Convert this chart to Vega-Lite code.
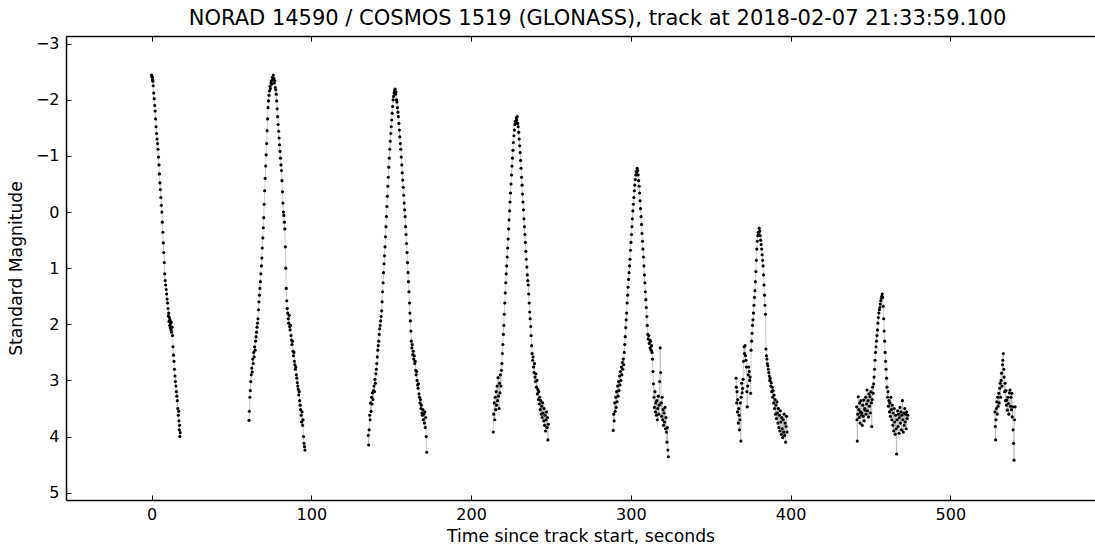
{
  "$schema": "https://vega.github.io/schema/vega-lite/v6.json",
  "width": 1029,
  "height": 464,
  "autosize": {"type": "none"},
  "padding": {"left": 66, "top": 36, "right": 0, "bottom": 45},
  "background": "white",
  "title": {
    "text": "NORAD 14590 / COSMOS 1519 (GLONASS), track at 2018-02-07 21:33:59.100",
    "font": "DejaVu Sans",
    "fontSize": 21,
    "fontWeight": "normal",
    "color": "#000000",
    "anchor": "middle",
    "offset": 7,
    "dx": 17
  },
  "config": {
    "view": {"stroke": null},
    "axis": {
      "domainColor": "#000000",
      "domainWidth": 1.5,
      "ticks": true,
      "tickColor": "#000000",
      "tickWidth": 1,
      "tickSize": -5,
      "grid": false,
      "labelFont": "DejaVu Sans",
      "labelFontSize": 16,
      "labelColor": "#000000",
      "titleFont": "DejaVu Sans",
      "titleFontSize": 17.2,
      "titleFontWeight": "normal",
      "titleColor": "#000000"
    }
  },
  "data": {
    "values": [
      {"pass":1,"t":0.0,"mag":-2.44},{"pass":1,"t":0.2,"mag":-2.42},{"pass":1,"t":0.4,"mag":-2.40},{"pass":1,"t":0.6,"mag":-2.36},{"pass":1,"t":0.8,"mag":-2.33},{"pass":1,"t":1.0,"mag":-2.25},{"pass":1,"t":1.3,"mag":-2.12},{"pass":1,"t":1.6,"mag":-2.02},{"pass":1,"t":1.9,"mag":-1.90},{"pass":1,"t":2.2,"mag":-1.80},{"pass":1,"t":2.5,"mag":-1.66},{"pass":1,"t":2.8,"mag":-1.52},{"pass":1,"t":3.1,"mag":-1.40},{"pass":1,"t":3.4,"mag":-1.30},{"pass":1,"t":3.7,"mag":-1.22},{"pass":1,"t":4.0,"mag":-1.12},{"pass":1,"t":4.3,"mag":-0.98},{"pass":1,"t":4.6,"mag":-0.84},{"pass":1,"t":4.9,"mag":-0.68},{"pass":1,"t":5.2,"mag":-0.52},{"pass":1,"t":5.5,"mag":-0.40},{"pass":1,"t":5.8,"mag":-0.26},{"pass":1,"t":6.1,"mag":-0.12},{"pass":1,"t":6.4,"mag":0.00},{"pass":1,"t":6.7,"mag":0.18},{"pass":1,"t":7.0,"mag":0.36},{"pass":1,"t":7.3,"mag":0.55},{"pass":1,"t":7.6,"mag":0.72},{"pass":1,"t":7.9,"mag":0.90},{"pass":1,"t":8.2,"mag":1.10},{"pass":1,"t":8.5,"mag":1.22},{"pass":1,"t":8.8,"mag":1.30},{"pass":1,"t":9.1,"mag":1.38},{"pass":1,"t":9.4,"mag":1.46},{"pass":1,"t":9.7,"mag":1.55},{"pass":1,"t":10.0,"mag":1.62},{"pass":1,"t":10.3,"mag":1.72},{"pass":1,"t":10.5,"mag":1.85},{"pass":1,"t":10.7,"mag":1.80},{"pass":1,"t":10.9,"mag":1.95},{"pass":1,"t":11.1,"mag":1.88},{"pass":1,"t":11.3,"mag":2.02},{"pass":1,"t":11.5,"mag":1.92},{"pass":1,"t":11.7,"mag":2.06},{"pass":1,"t":11.9,"mag":1.98},{"pass":1,"t":12.1,"mag":2.10},{"pass":1,"t":12.3,"mag":1.96},{"pass":1,"t":12.5,"mag":2.14},{"pass":1,"t":12.8,"mag":2.05},{"pass":1,"t":13.1,"mag":2.20},{"pass":1,"t":13.4,"mag":2.40},{"pass":1,"t":13.7,"mag":2.55},{"pass":1,"t":14.0,"mag":2.66},{"pass":1,"t":14.3,"mag":2.80},{"pass":1,"t":14.6,"mag":2.92},{"pass":1,"t":14.9,"mag":3.02},{"pass":1,"t":15.2,"mag":3.10},{"pass":1,"t":15.5,"mag":3.20},{"pass":1,"t":15.8,"mag":3.28},{"pass":1,"t":16.1,"mag":3.36},{"pass":1,"t":16.4,"mag":3.50},{"pass":1,"t":16.7,"mag":3.62},{"pass":1,"t":16.9,"mag":3.55},{"pass":1,"t":17.1,"mag":3.72},{"pass":1,"t":17.3,"mag":3.88},{"pass":1,"t":17.5,"mag":3.80},{"pass":1,"t":17.7,"mag":4.00},{"pass":1,"t":17.9,"mag":3.93},
      {"pass":2,"t":61.0,"mag":3.71},{"pass":2,"t":61.2,"mag":3.55},{"pass":2,"t":61.5,"mag":3.30},{"pass":2,"t":61.8,"mag":3.18},{"pass":2,"t":62.1,"mag":3.02},{"pass":2,"t":62.4,"mag":2.90},{"pass":2,"t":62.7,"mag":2.78},{"pass":2,"t":63.0,"mag":2.85},{"pass":2,"t":63.3,"mag":2.62},{"pass":2,"t":63.6,"mag":2.70},{"pass":2,"t":63.9,"mag":2.50},{"pass":2,"t":64.2,"mag":2.58},{"pass":2,"t":64.5,"mag":2.40},{"pass":2,"t":64.8,"mag":2.46},{"pass":2,"t":65.1,"mag":2.30},{"pass":2,"t":65.4,"mag":2.22},{"pass":2,"t":65.7,"mag":2.14},{"pass":2,"t":66.0,"mag":2.05},{"pass":2,"t":66.3,"mag":1.98},{"pass":2,"t":66.6,"mag":1.90},{"pass":2,"t":66.9,"mag":1.74},{"pass":2,"t":67.2,"mag":1.60},{"pass":2,"t":67.5,"mag":1.48},{"pass":2,"t":67.8,"mag":1.36},{"pass":2,"t":68.1,"mag":1.24},{"pass":2,"t":68.4,"mag":1.10},{"pass":2,"t":68.7,"mag":0.96},{"pass":2,"t":69.0,"mag":0.82},{"pass":2,"t":69.3,"mag":0.64},{"pass":2,"t":69.6,"mag":0.46},{"pass":2,"t":69.9,"mag":0.28},{"pass":2,"t":70.2,"mag":0.10},{"pass":2,"t":70.5,"mag":-0.14},{"pass":2,"t":70.8,"mag":-0.38},{"pass":2,"t":71.1,"mag":-0.60},{"pass":2,"t":71.4,"mag":-0.82},{"pass":2,"t":71.7,"mag":-1.02},{"pass":2,"t":72.0,"mag":-1.22},{"pass":2,"t":72.3,"mag":-1.45},{"pass":2,"t":72.6,"mag":-1.66},{"pass":2,"t":72.9,"mag":-1.86},{"pass":2,"t":73.2,"mag":-1.98},{"pass":2,"t":73.5,"mag":-2.08},{"pass":2,"t":73.8,"mag":-2.16},{"pass":2,"t":74.1,"mag":-2.24},{"pass":2,"t":74.4,"mag":-2.20},{"pass":2,"t":74.7,"mag":-2.30},{"pass":2,"t":75.0,"mag":-2.34},{"pass":2,"t":75.3,"mag":-2.28},{"pass":2,"t":75.6,"mag":-2.40},{"pass":2,"t":75.9,"mag":-2.36},{"pass":2,"t":76.2,"mag":-2.44},{"pass":2,"t":76.5,"mag":-2.38},{"pass":2,"t":76.8,"mag":-2.30},{"pass":2,"t":77.1,"mag":-2.34},{"pass":2,"t":77.4,"mag":-2.22},{"pass":2,"t":77.7,"mag":-2.18},{"pass":2,"t":78.0,"mag":-2.10},{"pass":2,"t":78.3,"mag":-1.98},{"pass":2,"t":78.6,"mag":-1.84},{"pass":2,"t":78.9,"mag":-1.70},{"pass":2,"t":79.2,"mag":-1.56},{"pass":2,"t":79.5,"mag":-1.44},{"pass":2,"t":79.8,"mag":-1.32},{"pass":2,"t":80.1,"mag":-1.20},{"pass":2,"t":80.4,"mag":-1.08},{"pass":2,"t":80.7,"mag":-0.96},{"pass":2,"t":81.0,"mag":-0.84},{"pass":2,"t":81.3,"mag":-0.74},{"pass":2,"t":81.6,"mag":-0.56},{"pass":2,"t":81.9,"mag":-0.36},{"pass":2,"t":82.2,"mag":-0.16},{"pass":2,"t":82.5,"mag":0.00},{"pass":2,"t":82.8,"mag":0.06},{"pass":2,"t":83.1,"mag":0.18},{"pass":2,"t":83.4,"mag":0.30},{"pass":2,"t":83.7,"mag":0.62},{"pass":2,"t":84.0,"mag":1.00},{"pass":2,"t":84.3,"mag":1.36},{"pass":2,"t":84.6,"mag":1.58},{"pass":2,"t":84.9,"mag":1.72},{"pass":2,"t":85.2,"mag":1.80},{"pass":2,"t":85.5,"mag":1.90},{"pass":2,"t":85.8,"mag":1.98},{"pass":2,"t":86.1,"mag":1.84},{"pass":2,"t":86.4,"mag":2.04},{"pass":2,"t":86.7,"mag":2.10},{"pass":2,"t":87.0,"mag":2.02},{"pass":2,"t":87.3,"mag":2.20},{"pass":2,"t":87.6,"mag":2.28},{"pass":2,"t":87.9,"mag":2.36},{"pass":2,"t":88.2,"mag":2.30},{"pass":2,"t":88.5,"mag":2.48},{"pass":2,"t":88.8,"mag":2.56},{"pass":2,"t":89.1,"mag":2.50},{"pass":2,"t":89.4,"mag":2.66},{"pass":2,"t":89.7,"mag":2.72},{"pass":2,"t":90.0,"mag":2.80},{"pass":2,"t":90.3,"mag":2.76},{"pass":2,"t":90.6,"mag":2.90},{"pass":2,"t":90.9,"mag":2.96},{"pass":2,"t":91.2,"mag":3.04},{"pass":2,"t":91.5,"mag":3.10},{"pass":2,"t":91.8,"mag":3.16},{"pass":2,"t":92.1,"mag":3.26},{"pass":2,"t":92.4,"mag":3.20},{"pass":2,"t":92.7,"mag":3.36},{"pass":2,"t":93.0,"mag":3.44},{"pass":2,"t":93.3,"mag":3.52},{"pass":2,"t":93.6,"mag":3.62},{"pass":2,"t":93.9,"mag":3.74},{"pass":2,"t":94.2,"mag":3.56},{"pass":2,"t":94.5,"mag":3.80},{"pass":2,"t":94.8,"mag":3.70},{"pass":2,"t":95.1,"mag":4.00},{"pass":2,"t":95.4,"mag":4.12},{"pass":2,"t":95.7,"mag":4.18},{"pass":2,"t":96.0,"mag":4.24},
      {"pass":3,"t":135.6,"mag":3.98},{"pass":3,"t":135.9,"mag":4.15},{"pass":3,"t":136.2,"mag":3.88},{"pass":3,"t":136.5,"mag":3.62},{"pass":3,"t":136.8,"mag":3.70},{"pass":3,"t":137.1,"mag":3.40},{"pass":3,"t":137.4,"mag":3.55},{"pass":3,"t":137.7,"mag":3.30},{"pass":3,"t":138.0,"mag":3.42},{"pass":3,"t":138.3,"mag":3.22},{"pass":3,"t":138.6,"mag":3.34},{"pass":3,"t":138.9,"mag":3.18},{"pass":3,"t":139.2,"mag":3.10},{"pass":3,"t":139.5,"mag":3.20},{"pass":3,"t":139.8,"mag":2.98},{"pass":3,"t":140.1,"mag":3.05},{"pass":3,"t":140.4,"mag":2.88},{"pass":3,"t":140.7,"mag":2.80},{"pass":3,"t":141.0,"mag":2.70},{"pass":3,"t":141.3,"mag":2.58},{"pass":3,"t":141.6,"mag":2.46},{"pass":3,"t":141.9,"mag":2.38},{"pass":3,"t":142.2,"mag":2.30},{"pass":3,"t":142.5,"mag":2.18},{"pass":3,"t":142.8,"mag":2.08},{"pass":3,"t":143.1,"mag":2.02},{"pass":3,"t":143.4,"mag":1.94},{"pass":3,"t":143.7,"mag":1.86},{"pass":3,"t":144.0,"mag":1.76},{"pass":3,"t":144.3,"mag":1.60},{"pass":3,"t":144.6,"mag":1.42},{"pass":3,"t":144.9,"mag":1.26},{"pass":3,"t":145.2,"mag":1.08},{"pass":3,"t":145.5,"mag":0.92},{"pass":3,"t":145.8,"mag":0.78},{"pass":3,"t":146.1,"mag":0.62},{"pass":3,"t":146.4,"mag":0.44},{"pass":3,"t":146.7,"mag":0.26},{"pass":3,"t":147.0,"mag":0.08},{"pass":3,"t":147.3,"mag":-0.10},{"pass":3,"t":147.6,"mag":-0.28},{"pass":3,"t":147.9,"mag":-0.46},{"pass":3,"t":148.2,"mag":-0.62},{"pass":3,"t":148.5,"mag":-0.80},{"pass":3,"t":148.8,"mag":-0.96},{"pass":3,"t":149.1,"mag":-1.12},{"pass":3,"t":149.4,"mag":-1.26},{"pass":3,"t":149.7,"mag":-1.40},{"pass":3,"t":150.0,"mag":-1.52},{"pass":3,"t":150.3,"mag":-1.64},{"pass":3,"t":150.6,"mag":-1.76},{"pass":3,"t":150.9,"mag":-1.88},{"pass":3,"t":151.2,"mag":-2.00},{"pass":3,"t":151.5,"mag":-2.06},{"pass":3,"t":151.8,"mag":-2.12},{"pass":3,"t":152.1,"mag":-2.16},{"pass":3,"t":152.4,"mag":-2.19},{"pass":3,"t":152.7,"mag":-2.10},{"pass":3,"t":153.0,"mag":-2.14},{"pass":3,"t":153.3,"mag":-2.00},{"pass":3,"t":153.6,"mag":-1.96},{"pass":3,"t":153.9,"mag":-1.86},{"pass":3,"t":154.2,"mag":-1.78},{"pass":3,"t":154.5,"mag":-1.70},{"pass":3,"t":154.8,"mag":-1.58},{"pass":3,"t":155.1,"mag":-1.46},{"pass":3,"t":155.4,"mag":-1.34},{"pass":3,"t":155.7,"mag":-1.22},{"pass":3,"t":156.0,"mag":-1.12},{"pass":3,"t":156.3,"mag":-0.98},{"pass":3,"t":156.6,"mag":-0.84},{"pass":3,"t":156.9,"mag":-0.70},{"pass":3,"t":157.2,"mag":-0.57},{"pass":3,"t":157.5,"mag":-0.44},{"pass":3,"t":157.8,"mag":-0.30},{"pass":3,"t":158.1,"mag":-0.16},{"pass":3,"t":158.4,"mag":-0.04},{"pass":3,"t":158.7,"mag":0.08},{"pass":3,"t":159.0,"mag":0.26},{"pass":3,"t":159.3,"mag":0.40},{"pass":3,"t":159.6,"mag":0.56},{"pass":3,"t":159.9,"mag":0.72},{"pass":3,"t":160.2,"mag":0.90},{"pass":3,"t":160.5,"mag":1.08},{"pass":3,"t":160.8,"mag":1.24},{"pass":3,"t":161.1,"mag":1.42},{"pass":3,"t":161.4,"mag":1.62},{"pass":3,"t":161.7,"mag":1.80},{"pass":3,"t":162.0,"mag":1.94},{"pass":3,"t":162.3,"mag":2.12},{"pass":3,"t":162.6,"mag":2.30},{"pass":3,"t":162.9,"mag":2.42},{"pass":3,"t":163.2,"mag":2.36},{"pass":3,"t":163.5,"mag":2.54},{"pass":3,"t":163.8,"mag":2.48},{"pass":3,"t":164.1,"mag":2.62},{"pass":3,"t":164.4,"mag":2.56},{"pass":3,"t":164.7,"mag":2.70},{"pass":3,"t":165.0,"mag":2.66},{"pass":3,"t":165.3,"mag":2.82},{"pass":3,"t":165.6,"mag":2.90},{"pass":3,"t":165.9,"mag":2.84},{"pass":3,"t":166.2,"mag":3.00},{"pass":3,"t":166.5,"mag":3.08},{"pass":3,"t":166.8,"mag":3.14},{"pass":3,"t":167.1,"mag":3.06},{"pass":3,"t":167.4,"mag":3.24},{"pass":3,"t":167.7,"mag":3.30},{"pass":3,"t":168.0,"mag":3.40},{"pass":3,"t":168.3,"mag":3.34},{"pass":3,"t":168.6,"mag":3.50},{"pass":3,"t":168.9,"mag":3.44},{"pass":3,"t":169.2,"mag":3.58},{"pass":3,"t":169.5,"mag":3.62},{"pass":3,"t":169.8,"mag":3.52},{"pass":3,"t":170.1,"mag":3.70},{"pass":3,"t":170.4,"mag":3.60},{"pass":3,"t":170.7,"mag":3.76},{"pass":3,"t":171.0,"mag":3.56},{"pass":3,"t":171.3,"mag":3.84},{"pass":3,"t":171.6,"mag":3.66},{"pass":3,"t":171.9,"mag":4.00},{"pass":3,"t":172.2,"mag":4.28},
      {"pass":4,"t":213.9,"mag":3.92},{"pass":4,"t":214.2,"mag":3.60},{"pass":4,"t":214.5,"mag":3.40},{"pass":4,"t":214.8,"mag":3.70},{"pass":4,"t":215.1,"mag":3.30},{"pass":4,"t":215.4,"mag":3.52},{"pass":4,"t":215.7,"mag":3.20},{"pass":4,"t":216.0,"mag":3.44},{"pass":4,"t":216.3,"mag":3.10},{"pass":4,"t":216.6,"mag":3.36},{"pass":4,"t":216.9,"mag":2.95},{"pass":4,"t":217.2,"mag":3.28},{"pass":4,"t":217.5,"mag":3.50},{"pass":4,"t":217.8,"mag":3.05},{"pass":4,"t":218.1,"mag":3.22},{"pass":4,"t":218.4,"mag":2.90},{"pass":4,"t":218.7,"mag":3.10},{"pass":4,"t":219.0,"mag":2.82},{"pass":4,"t":219.3,"mag":2.70},{"pass":4,"t":219.6,"mag":2.52},{"pass":4,"t":219.9,"mag":2.36},{"pass":4,"t":220.2,"mag":2.18},{"pass":4,"t":220.5,"mag":2.02},{"pass":4,"t":220.8,"mag":1.82},{"pass":4,"t":221.1,"mag":1.62},{"pass":4,"t":221.4,"mag":1.44},{"pass":4,"t":221.7,"mag":1.26},{"pass":4,"t":222.0,"mag":1.10},{"pass":4,"t":222.3,"mag":0.96},{"pass":4,"t":222.6,"mag":0.80},{"pass":4,"t":222.9,"mag":0.64},{"pass":4,"t":223.2,"mag":0.48},{"pass":4,"t":223.5,"mag":0.30},{"pass":4,"t":223.8,"mag":0.14},{"pass":4,"t":224.1,"mag":-0.02},{"pass":4,"t":224.4,"mag":-0.18},{"pass":4,"t":224.7,"mag":-0.34},{"pass":4,"t":225.0,"mag":-0.50},{"pass":4,"t":225.3,"mag":-0.66},{"pass":4,"t":225.6,"mag":-0.82},{"pass":4,"t":225.9,"mag":-0.96},{"pass":4,"t":226.2,"mag":-1.10},{"pass":4,"t":226.5,"mag":-1.24},{"pass":4,"t":226.8,"mag":-1.36},{"pass":4,"t":227.1,"mag":-1.46},{"pass":4,"t":227.4,"mag":-1.56},{"pass":4,"t":227.7,"mag":-1.62},{"pass":4,"t":228.0,"mag":-1.58},{"pass":4,"t":228.3,"mag":-1.68},{"pass":4,"t":228.6,"mag":-1.64},{"pass":4,"t":228.9,"mag":-1.70},{"pass":4,"t":229.2,"mag":-1.58},{"pass":4,"t":229.5,"mag":-1.52},{"pass":4,"t":229.8,"mag":-1.42},{"pass":4,"t":230.1,"mag":-1.30},{"pass":4,"t":230.4,"mag":-1.18},{"pass":4,"t":230.7,"mag":-1.06},{"pass":4,"t":231.0,"mag":-0.92},{"pass":4,"t":231.3,"mag":-0.78},{"pass":4,"t":231.6,"mag":-0.62},{"pass":4,"t":231.9,"mag":-0.48},{"pass":4,"t":232.2,"mag":-0.32},{"pass":4,"t":232.5,"mag":-0.18},{"pass":4,"t":232.8,"mag":-0.04},{"pass":4,"t":233.1,"mag":0.12},{"pass":4,"t":233.4,"mag":0.26},{"pass":4,"t":233.7,"mag":0.40},{"pass":4,"t":234.0,"mag":0.54},{"pass":4,"t":234.3,"mag":0.70},{"pass":4,"t":234.6,"mag":0.84},{"pass":4,"t":234.9,"mag":0.98},{"pass":4,"t":235.2,"mag":1.12},{"pass":4,"t":235.5,"mag":1.22},{"pass":4,"t":235.8,"mag":1.30},{"pass":4,"t":236.1,"mag":1.46},{"pass":4,"t":236.4,"mag":1.62},{"pass":4,"t":236.7,"mag":1.78},{"pass":4,"t":237.0,"mag":1.90},{"pass":4,"t":237.3,"mag":2.04},{"pass":4,"t":237.6,"mag":2.20},{"pass":4,"t":237.9,"mag":2.38},{"pass":4,"t":238.2,"mag":2.52},{"pass":4,"t":238.5,"mag":2.64},{"pass":4,"t":238.8,"mag":2.58},{"pass":4,"t":239.1,"mag":2.76},{"pass":4,"t":239.4,"mag":2.86},{"pass":4,"t":239.7,"mag":2.70},{"pass":4,"t":240.0,"mag":2.94},{"pass":4,"t":240.3,"mag":3.02},{"pass":4,"t":240.6,"mag":2.88},{"pass":4,"t":240.9,"mag":3.12},{"pass":4,"t":241.2,"mag":3.00},{"pass":4,"t":241.5,"mag":3.24},{"pass":4,"t":241.8,"mag":3.16},{"pass":4,"t":242.1,"mag":3.34},{"pass":4,"t":242.4,"mag":3.20},{"pass":4,"t":242.7,"mag":3.42},{"pass":4,"t":243.0,"mag":3.30},{"pass":4,"t":243.3,"mag":3.52},{"pass":4,"t":243.6,"mag":3.36},{"pass":4,"t":243.9,"mag":3.60},{"pass":4,"t":244.2,"mag":3.46},{"pass":4,"t":244.5,"mag":3.66},{"pass":4,"t":244.8,"mag":3.40},{"pass":4,"t":245.1,"mag":3.58},{"pass":4,"t":245.4,"mag":3.72},{"pass":4,"t":245.7,"mag":3.50},{"pass":4,"t":246.0,"mag":3.80},{"pass":4,"t":246.3,"mag":3.62},{"pass":4,"t":246.6,"mag":3.90},{"pass":4,"t":246.9,"mag":3.70},{"pass":4,"t":247.2,"mag":3.56},{"pass":4,"t":247.5,"mag":3.84},{"pass":4,"t":247.8,"mag":3.66},{"pass":4,"t":248.1,"mag":4.06},{"pass":4,"t":248.4,"mag":3.78},
      {"pass":5,"t":289.0,"mag":3.89},{"pass":5,"t":289.3,"mag":3.60},{"pass":5,"t":289.6,"mag":3.72},{"pass":5,"t":289.9,"mag":3.40},{"pass":5,"t":290.2,"mag":3.55},{"pass":5,"t":290.5,"mag":3.30},{"pass":5,"t":290.8,"mag":3.48},{"pass":5,"t":291.1,"mag":3.20},{"pass":5,"t":291.4,"mag":3.38},{"pass":5,"t":291.7,"mag":3.10},{"pass":5,"t":292.0,"mag":3.28},{"pass":5,"t":292.3,"mag":3.02},{"pass":5,"t":292.6,"mag":3.18},{"pass":5,"t":292.9,"mag":2.92},{"pass":5,"t":293.2,"mag":3.08},{"pass":5,"t":293.5,"mag":2.84},{"pass":5,"t":293.8,"mag":3.00},{"pass":5,"t":294.1,"mag":2.76},{"pass":5,"t":294.4,"mag":2.90},{"pass":5,"t":294.7,"mag":2.68},{"pass":5,"t":295.0,"mag":2.80},{"pass":5,"t":295.3,"mag":2.62},{"pass":5,"t":295.6,"mag":2.72},{"pass":5,"t":295.9,"mag":2.50},{"pass":5,"t":296.2,"mag":2.36},{"pass":5,"t":296.5,"mag":2.22},{"pass":5,"t":296.8,"mag":2.06},{"pass":5,"t":297.1,"mag":1.92},{"pass":5,"t":297.4,"mag":1.80},{"pass":5,"t":297.7,"mag":1.62},{"pass":5,"t":298.0,"mag":1.48},{"pass":5,"t":298.3,"mag":1.34},{"pass":5,"t":298.6,"mag":1.20},{"pass":5,"t":298.9,"mag":1.08},{"pass":5,"t":299.2,"mag":0.96},{"pass":5,"t":299.5,"mag":0.84},{"pass":5,"t":299.8,"mag":0.68},{"pass":5,"t":300.1,"mag":0.54},{"pass":5,"t":300.4,"mag":0.40},{"pass":5,"t":300.7,"mag":0.26},{"pass":5,"t":301.0,"mag":0.12},{"pass":5,"t":301.3,"mag":-0.02},{"pass":5,"t":301.6,"mag":-0.14},{"pass":5,"t":301.9,"mag":-0.26},{"pass":5,"t":302.2,"mag":-0.38},{"pass":5,"t":302.5,"mag":-0.48},{"pass":5,"t":302.8,"mag":-0.58},{"pass":5,"t":303.1,"mag":-0.66},{"pass":5,"t":303.4,"mag":-0.72},{"pass":5,"t":303.7,"mag":-0.70},{"pass":5,"t":304.0,"mag":-0.78},{"pass":5,"t":304.3,"mag":-0.74},{"pass":5,"t":304.6,"mag":-0.66},{"pass":5,"t":304.9,"mag":-0.56},{"pass":5,"t":305.2,"mag":-0.46},{"pass":5,"t":305.5,"mag":-0.34},{"pass":5,"t":305.8,"mag":-0.20},{"pass":5,"t":306.1,"mag":-0.06},{"pass":5,"t":306.4,"mag":0.08},{"pass":5,"t":306.7,"mag":0.22},{"pass":5,"t":307.0,"mag":0.38},{"pass":5,"t":307.3,"mag":0.52},{"pass":5,"t":307.6,"mag":0.66},{"pass":5,"t":307.9,"mag":0.80},{"pass":5,"t":308.2,"mag":0.96},{"pass":5,"t":308.5,"mag":1.12},{"pass":5,"t":308.8,"mag":1.26},{"pass":5,"t":309.1,"mag":1.42},{"pass":5,"t":309.4,"mag":1.56},{"pass":5,"t":309.7,"mag":1.70},{"pass":5,"t":310.0,"mag":1.86},{"pass":5,"t":310.3,"mag":2.02},{"pass":5,"t":310.6,"mag":2.18},{"pass":5,"t":310.9,"mag":2.26},{"pass":5,"t":311.2,"mag":2.20},{"pass":5,"t":311.5,"mag":2.34},{"pass":5,"t":311.8,"mag":2.28},{"pass":5,"t":312.1,"mag":2.42},{"pass":5,"t":312.4,"mag":2.30},{"pass":5,"t":312.7,"mag":2.46},{"pass":5,"t":313.0,"mag":2.38},{"pass":5,"t":313.3,"mag":2.50},{"pass":5,"t":313.6,"mag":2.62},{"pass":5,"t":313.9,"mag":2.84},{"pass":5,"t":314.2,"mag":3.06},{"pass":5,"t":314.5,"mag":3.30},{"pass":5,"t":314.8,"mag":3.48},{"pass":5,"t":315.1,"mag":3.20},{"pass":5,"t":315.4,"mag":3.56},{"pass":5,"t":315.7,"mag":3.40},{"pass":5,"t":316.0,"mag":3.62},{"pass":5,"t":316.3,"mag":3.36},{"pass":5,"t":316.6,"mag":3.70},{"pass":5,"t":316.9,"mag":3.50},{"pass":5,"t":317.2,"mag":3.28},{"pass":5,"t":317.5,"mag":3.60},{"pass":5,"t":317.8,"mag":3.44},{"pass":5,"t":318.1,"mag":3.02},{"pass":5,"t":318.4,"mag":2.42},{"pass":5,"t":318.7,"mag":2.86},{"pass":5,"t":319.0,"mag":3.40},{"pass":5,"t":319.3,"mag":3.64},{"pass":5,"t":319.6,"mag":3.30},{"pass":5,"t":319.9,"mag":3.70},{"pass":5,"t":320.2,"mag":3.52},{"pass":5,"t":320.5,"mag":3.80},{"pass":5,"t":320.8,"mag":3.58},{"pass":5,"t":321.1,"mag":3.74},{"pass":5,"t":321.4,"mag":3.48},{"pass":5,"t":321.7,"mag":3.86},{"pass":5,"t":322.0,"mag":3.66},{"pass":5,"t":322.3,"mag":3.92},{"pass":5,"t":322.6,"mag":4.10},{"pass":5,"t":322.9,"mag":3.84},{"pass":5,"t":323.2,"mag":4.24},{"pass":5,"t":323.5,"mag":4.36},
      {"pass":6,"t":365.9,"mag":2.96},{"pass":6,"t":366.1,"mag":3.12},{"pass":6,"t":366.3,"mag":3.40},{"pass":6,"t":366.5,"mag":3.20},{"pass":6,"t":366.8,"mag":3.56},{"pass":6,"t":367.0,"mag":3.34},{"pass":6,"t":367.3,"mag":3.76},{"pass":6,"t":367.6,"mag":3.50},{"pass":6,"t":367.8,"mag":3.62},{"pass":6,"t":368.0,"mag":3.88},{"pass":6,"t":368.3,"mag":3.70},{"pass":6,"t":368.6,"mag":3.40},{"pass":6,"t":368.9,"mag":4.08},{"pass":6,"t":369.1,"mag":3.30},{"pass":6,"t":369.4,"mag":3.05},{"pass":6,"t":369.7,"mag":3.22},{"pass":6,"t":370.0,"mag":3.14},{"pass":6,"t":370.3,"mag":2.98},{"pass":6,"t":370.6,"mag":2.66},{"pass":6,"t":370.9,"mag":2.40},{"pass":6,"t":371.2,"mag":2.52},{"pass":6,"t":371.5,"mag":2.38},{"pass":6,"t":371.8,"mag":2.56},{"pass":6,"t":372.1,"mag":2.64},{"pass":6,"t":372.4,"mag":2.76},{"pass":6,"t":372.7,"mag":3.20},{"pass":6,"t":372.9,"mag":3.47},{"pass":6,"t":373.2,"mag":3.10},{"pass":6,"t":373.5,"mag":2.90},{"pass":6,"t":373.8,"mag":2.76},{"pass":6,"t":374.1,"mag":2.84},{"pass":6,"t":374.4,"mag":3.00},{"pass":6,"t":374.7,"mag":2.94},{"pass":6,"t":375.0,"mag":3.23},{"pass":6,"t":375.3,"mag":2.46},{"pass":6,"t":375.6,"mag":2.30},{"pass":6,"t":375.9,"mag":2.16},{"pass":6,"t":376.2,"mag":2.02},{"pass":6,"t":376.5,"mag":1.92},{"pass":6,"t":376.8,"mag":1.80},{"pass":6,"t":377.1,"mag":1.66},{"pass":6,"t":377.4,"mag":1.52},{"pass":6,"t":377.7,"mag":1.40},{"pass":6,"t":378.0,"mag":1.24},{"pass":6,"t":378.3,"mag":1.06},{"pass":6,"t":378.6,"mag":0.86},{"pass":6,"t":378.9,"mag":0.66},{"pass":6,"t":379.2,"mag":0.52},{"pass":6,"t":379.5,"mag":0.42},{"pass":6,"t":379.8,"mag":0.36},{"pass":6,"t":380.1,"mag":0.40},{"pass":6,"t":380.4,"mag":0.29},{"pass":6,"t":380.7,"mag":0.34},{"pass":6,"t":381.0,"mag":0.42},{"pass":6,"t":381.3,"mag":0.50},{"pass":6,"t":381.6,"mag":0.58},{"pass":6,"t":381.9,"mag":0.66},{"pass":6,"t":382.2,"mag":0.76},{"pass":6,"t":382.5,"mag":0.86},{"pass":6,"t":382.8,"mag":0.96},{"pass":6,"t":383.1,"mag":1.12},{"pass":6,"t":383.4,"mag":1.30},{"pass":6,"t":383.7,"mag":1.48},{"pass":6,"t":384.0,"mag":1.66},{"pass":6,"t":384.3,"mag":1.82},{"pass":6,"t":384.6,"mag":2.44},{"pass":6,"t":384.9,"mag":2.56},{"pass":6,"t":385.2,"mag":2.62},{"pass":6,"t":385.5,"mag":2.70},{"pass":6,"t":385.8,"mag":2.74},{"pass":6,"t":386.1,"mag":2.80},{"pass":6,"t":386.4,"mag":2.86},{"pass":6,"t":386.7,"mag":2.92},{"pass":6,"t":387.0,"mag":3.00},{"pass":6,"t":387.3,"mag":2.96},{"pass":6,"t":387.6,"mag":3.10},{"pass":6,"t":387.9,"mag":3.04},{"pass":6,"t":388.2,"mag":3.20},{"pass":6,"t":388.5,"mag":3.12},{"pass":6,"t":388.8,"mag":3.30},{"pass":6,"t":389.1,"mag":3.18},{"pass":6,"t":389.4,"mag":3.40},{"pass":6,"t":389.7,"mag":3.26},{"pass":6,"t":390.0,"mag":3.50},{"pass":6,"t":390.3,"mag":3.34},{"pass":6,"t":390.6,"mag":3.60},{"pass":6,"t":390.9,"mag":3.44},{"pass":6,"t":391.2,"mag":3.68},{"pass":6,"t":391.5,"mag":3.38},{"pass":6,"t":391.8,"mag":3.58},{"pass":6,"t":392.1,"mag":3.76},{"pass":6,"t":392.4,"mag":3.50},{"pass":6,"t":392.7,"mag":3.84},{"pass":6,"t":393.0,"mag":3.62},{"pass":6,"t":393.3,"mag":3.90},{"pass":6,"t":393.6,"mag":3.54},{"pass":6,"t":393.9,"mag":3.74},{"pass":6,"t":394.2,"mag":3.96},{"pass":6,"t":394.5,"mag":3.66},{"pass":6,"t":394.8,"mag":3.86},{"pass":6,"t":395.1,"mag":4.02},{"pass":6,"t":395.4,"mag":3.70},{"pass":6,"t":395.7,"mag":3.92},{"pass":6,"t":396.0,"mag":3.60},{"pass":6,"t":396.3,"mag":3.98},{"pass":6,"t":396.6,"mag":3.76},{"pass":6,"t":396.9,"mag":4.10},{"pass":6,"t":397.2,"mag":3.82},{"pass":6,"t":397.5,"mag":3.64},{"pass":6,"t":397.8,"mag":3.92},
      {"pass":7,"t":441.4,"mag":3.47},{"pass":7,"t":441.6,"mag":3.70},{"pass":7,"t":441.8,"mag":4.08},{"pass":7,"t":442.1,"mag":3.60},{"pass":7,"t":442.4,"mag":3.29},{"pass":7,"t":442.7,"mag":3.52},{"pass":7,"t":443.0,"mag":3.66},{"pass":7,"t":443.3,"mag":3.40},{"pass":7,"t":443.5,"mag":3.76},{"pass":7,"t":443.8,"mag":3.56},{"pass":7,"t":444.1,"mag":3.36},{"pass":7,"t":444.4,"mag":3.62},{"pass":7,"t":444.6,"mag":3.58},{"pass":7,"t":444.9,"mag":3.80},{"pass":7,"t":445.2,"mag":3.44},{"pass":7,"t":445.5,"mag":3.64},{"pass":7,"t":445.8,"mag":3.35},{"pass":7,"t":446.1,"mag":3.72},{"pass":7,"t":446.4,"mag":3.50},{"pass":7,"t":446.7,"mag":3.53},{"pass":7,"t":447.0,"mag":3.30},{"pass":7,"t":447.3,"mag":3.60},{"pass":7,"t":447.6,"mag":3.42},{"pass":7,"t":447.9,"mag":3.17},{"pass":7,"t":448.2,"mag":3.54},{"pass":7,"t":448.5,"mag":3.36},{"pass":7,"t":448.8,"mag":3.65},{"pass":7,"t":449.1,"mag":3.24},{"pass":7,"t":449.4,"mag":3.46},{"pass":7,"t":449.7,"mag":3.29},{"pass":7,"t":450.0,"mag":3.58},{"pass":7,"t":450.3,"mag":3.20},{"pass":7,"t":450.6,"mag":3.40},{"pass":7,"t":450.8,"mag":3.82},{"pass":7,"t":451.1,"mag":3.34},{"pass":7,"t":451.4,"mag":3.12},{"pass":7,"t":451.7,"mag":3.23},{"pass":7,"t":452.0,"mag":3.06},{"pass":7,"t":452.3,"mag":2.94},{"pass":7,"t":452.6,"mag":2.80},{"pass":7,"t":452.9,"mag":2.64},{"pass":7,"t":453.2,"mag":2.50},{"pass":7,"t":453.5,"mag":2.40},{"pass":7,"t":453.8,"mag":2.30},{"pass":7,"t":454.1,"mag":2.20},{"pass":7,"t":454.4,"mag":2.10},{"pass":7,"t":454.7,"mag":1.98},{"pass":7,"t":455.0,"mag":1.88},{"pass":7,"t":455.3,"mag":1.80},{"pass":7,"t":455.6,"mag":1.74},{"pass":7,"t":455.9,"mag":1.70},{"pass":7,"t":456.2,"mag":1.64},{"pass":7,"t":456.5,"mag":1.58},{"pass":7,"t":456.8,"mag":1.54},{"pass":7,"t":457.1,"mag":1.50},{"pass":7,"t":457.4,"mag":1.46},{"pass":7,"t":457.7,"mag":1.52},{"pass":7,"t":458.0,"mag":1.68},{"pass":7,"t":458.3,"mag":1.90},{"pass":7,"t":458.6,"mag":2.12},{"pass":7,"t":458.9,"mag":2.30},{"pass":7,"t":459.2,"mag":2.50},{"pass":7,"t":459.5,"mag":2.66},{"pass":7,"t":459.8,"mag":2.80},{"pass":7,"t":460.1,"mag":2.96},{"pass":7,"t":460.4,"mag":3.12},{"pass":7,"t":460.7,"mag":3.30},{"pass":7,"t":461.0,"mag":3.20},{"pass":7,"t":461.3,"mag":3.46},{"pass":7,"t":461.6,"mag":3.36},{"pass":7,"t":461.9,"mag":3.56},{"pass":7,"t":462.2,"mag":3.40},{"pass":7,"t":462.5,"mag":3.64},{"pass":7,"t":462.8,"mag":3.30},{"pass":7,"t":463.1,"mag":3.52},{"pass":7,"t":463.4,"mag":3.70},{"pass":7,"t":463.7,"mag":3.44},{"pass":7,"t":464.0,"mag":3.80},{"pass":7,"t":464.3,"mag":3.58},{"pass":7,"t":464.6,"mag":3.90},{"pass":7,"t":464.9,"mag":3.50},{"pass":7,"t":465.2,"mag":3.74},{"pass":7,"t":465.5,"mag":3.96},{"pass":7,"t":465.8,"mag":3.62},{"pass":7,"t":466.1,"mag":3.86},{"pass":7,"t":466.4,"mag":4.31},{"pass":7,"t":466.7,"mag":3.70},{"pass":7,"t":467.0,"mag":3.54},{"pass":7,"t":467.3,"mag":3.82},{"pass":7,"t":467.6,"mag":3.60},{"pass":7,"t":467.9,"mag":3.94},{"pass":7,"t":468.2,"mag":3.66},{"pass":7,"t":468.5,"mag":3.48},{"pass":7,"t":468.8,"mag":3.76},{"pass":7,"t":469.1,"mag":3.56},{"pass":7,"t":469.4,"mag":3.88},{"pass":7,"t":469.7,"mag":3.62},{"pass":7,"t":470.0,"mag":3.36},{"pass":7,"t":470.3,"mag":3.70},{"pass":7,"t":470.6,"mag":3.92},{"pass":7,"t":470.9,"mag":3.58},{"pass":7,"t":471.2,"mag":3.80},{"pass":7,"t":471.5,"mag":3.50},{"pass":7,"t":471.8,"mag":3.74},{"pass":7,"t":472.1,"mag":3.60},{"pass":7,"t":472.4,"mag":3.86},{"pass":7,"t":472.7,"mag":3.56},{"pass":7,"t":473.0,"mag":3.68},{"pass":7,"t":473.4,"mag":3.62},
      {"pass":8,"t":528.0,"mag":3.56},{"pass":8,"t":528.2,"mag":3.82},{"pass":8,"t":528.4,"mag":4.06},{"pass":8,"t":528.6,"mag":3.70},{"pass":8,"t":528.9,"mag":3.50},{"pass":8,"t":529.1,"mag":3.38},{"pass":8,"t":529.4,"mag":3.60},{"pass":8,"t":529.7,"mag":3.30},{"pass":8,"t":530.0,"mag":3.46},{"pass":8,"t":530.3,"mag":3.23},{"pass":8,"t":530.6,"mag":3.40},{"pass":8,"t":530.9,"mag":3.14},{"pass":8,"t":531.2,"mag":3.05},{"pass":8,"t":531.5,"mag":3.30},{"pass":8,"t":531.8,"mag":3.00},{"pass":8,"t":532.1,"mag":2.87},{"pass":8,"t":532.4,"mag":3.10},{"pass":8,"t":532.7,"mag":2.72},{"pass":8,"t":532.9,"mag":2.64},{"pass":8,"t":533.2,"mag":2.52},{"pass":8,"t":533.5,"mag":2.80},{"pass":8,"t":533.7,"mag":2.94},{"pass":8,"t":534.0,"mag":3.20},{"pass":8,"t":534.3,"mag":3.05},{"pass":8,"t":534.6,"mag":3.36},{"pass":8,"t":534.9,"mag":3.18},{"pass":8,"t":535.2,"mag":3.44},{"pass":8,"t":535.4,"mag":3.35},{"pass":8,"t":535.7,"mag":3.53},{"pass":8,"t":536.0,"mag":3.30},{"pass":8,"t":536.4,"mag":3.41},{"pass":8,"t":536.7,"mag":3.60},{"pass":8,"t":537.0,"mag":3.22},{"pass":8,"t":537.4,"mag":3.17},{"pass":8,"t":537.7,"mag":3.46},{"pass":8,"t":538.0,"mag":3.30},{"pass":8,"t":538.3,"mag":3.52},{"pass":8,"t":538.5,"mag":3.23},{"pass":8,"t":538.8,"mag":3.65},{"pass":8,"t":539.1,"mag":3.47},{"pass":8,"t":539.3,"mag":3.88},{"pass":8,"t":539.6,"mag":4.12},{"pass":8,"t":539.9,"mag":4.42},{"pass":8,"t":540.2,"mag":3.70},{"pass":8,"t":540.6,"mag":3.47}
    ]
  },
  "layer": [
    {
      "mark": {"type": "line", "stroke": "#b4b4b4", "strokeWidth": 0.7},
      "encoding": {
        "x": {
          "field": "t",
          "type": "quantitative",
          "scale": {"domain": [-53.6, 590.6], "nice": false, "zero": false},
          "axis": {
            "orient": "bottom",
            "values": [0, 100, 200, 300, 400, 500],
            "format": "d",
            "labelPadding": 11,
            "title": "Time since track start, seconds",
            "titlePadding": 5
          }
        },
        "y": {
          "field": "mag",
          "type": "quantitative",
          "scale": {"domain": [-3.137, 5.13], "reverse": true, "nice": false, "zero": false},
          "axis": {
            "orient": "left",
            "values": [-3, -2, -1, 0, 1, 2, 3, 4, 5],
            "format": "d",
            "labelPadding": 12,
            "title": "Standard Magnitude",
            "titlePadding": 10
          }
        },
        "detail": {"field": "pass", "type": "nominal"},
        "order": {"field": "t", "type": "quantitative"}
      }
    },
    {
      "mark": {"type": "point", "shape": "circle", "filled": true, "size": 10, "color": "#000000", "opacity": 1},
      "encoding": {
        "x": {
          "field": "t",
          "type": "quantitative",
          "axis": {
            "orient": "top",
            "values": [0, 100, 200, 300, 400, 500],
            "labels": false,
            "title": null
          }
        },
        "y": {
          "field": "mag",
          "type": "quantitative",
          "axis": {
            "orient": "left",
            "values": [-3, -2, -1, 0, 1, 2, 3, 4, 5],
            "format": "d",
            "labelPadding": 12,
            "title": "Standard Magnitude",
            "titlePadding": 10
          }
        }
      }
    }
  ]
}
